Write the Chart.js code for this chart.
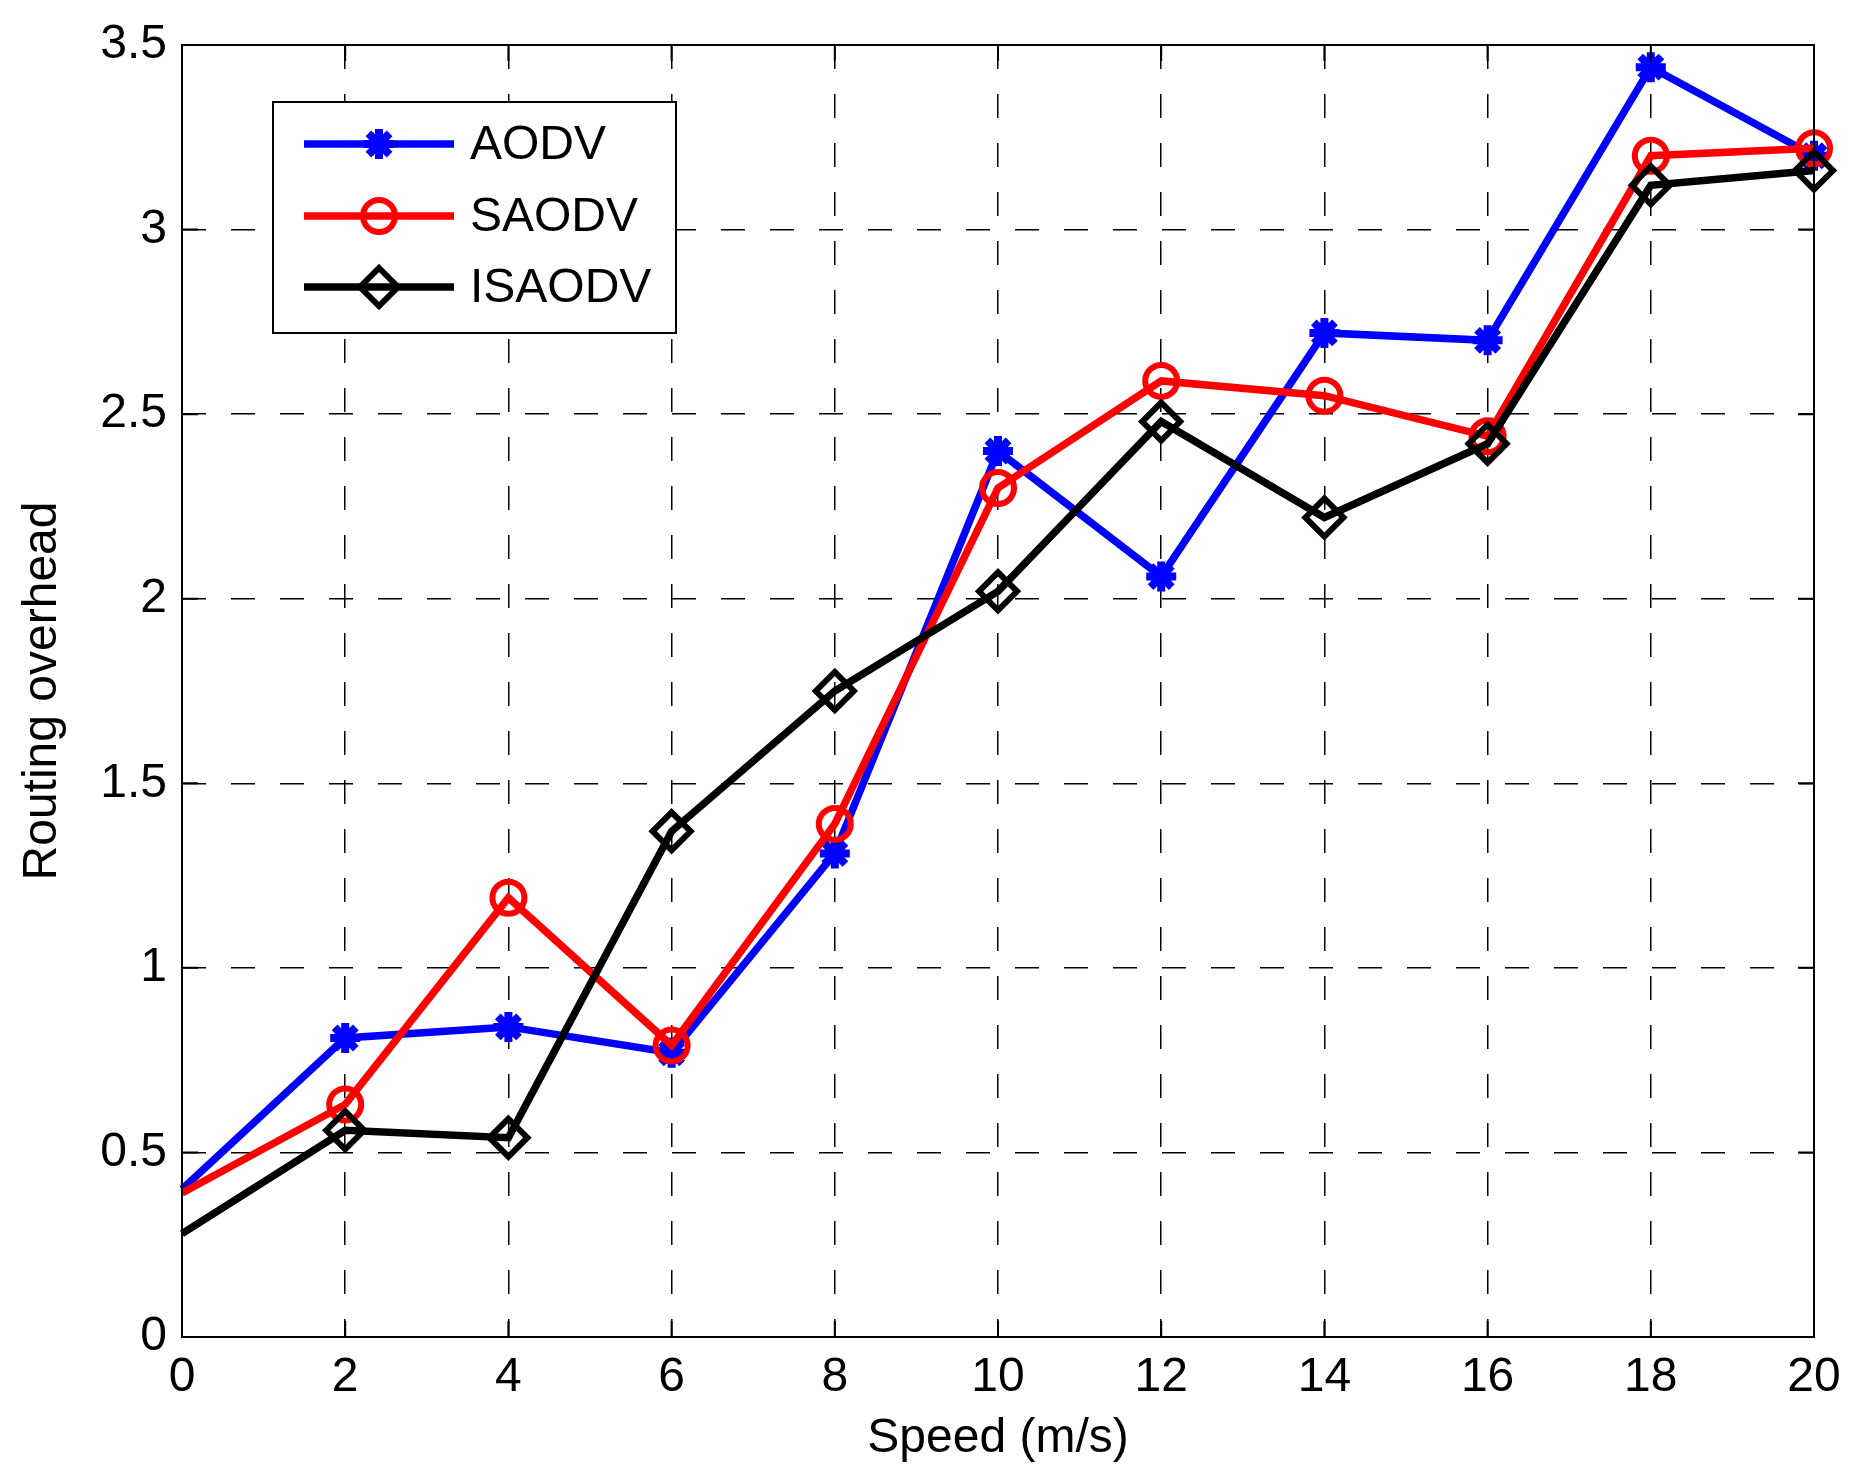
<!DOCTYPE html>
<html>
<head>
<meta charset="utf-8">
<script src="https://cdn.jsdelivr.net/npm/chart.js@4.4.1/dist/chart.umd.min.js"></script>
<style>
  html, body { margin: 0; padding: 0; background: #fff; }
  #wrap { width: 1868px; height: 1482px; position: relative; }
</style>
</head>
<body>
<div id="wrap"><canvas id="overheadChart"></canvas></div>
<script>
// data
const speeds = [0, 2, 4, 6, 8, 10, 12, 14, 16, 18, 20];
const aodv   = [0.40, 0.81, 0.84, 0.77, 1.31, 2.40, 2.06, 2.72, 2.70, 3.44, 3.20];
const saodv  = [0.39, 0.63, 1.19, 0.79, 1.39, 2.30, 2.59, 2.55, 2.44, 3.20, 3.22];
const isaodv = [0.28, 0.56, 0.54, 1.37, 1.75, 2.02, 2.48, 2.22, 2.42, 3.12, 3.16];
const seriesNames = ['AODV', 'SAODV', 'ISAODV'];
const xTitle = 'Speed (m/s)';
const yTitle = 'Routing overhead';

const FONT = 'Arial, "Liberation Sans", Helvetica, sans-serif';
const LINE_W = 7.5;

function toPoints(vals) {
  return speeds.map((s, i) => ({ x: s, y: vals[i] }));
}

// no marker at x = 0, like the original
function hideFirst(r) {
  return ctx => ctx.dataIndex === 0 ? 0 : r;
}

const styles = [
  { color: '#0000ff', pointStyle: 'star',    radius: 15, bw: 8 },
  { color: '#ff0000', pointStyle: 'circle',  radius: 16, bw: 6 },
  { color: '#000000', pointStyle: 'rectRot', radius: 19, bw: 6 }
];

const overhead_data = {
  datasets: [aodv, saodv, isaodv].map((vals, i) => ({
    label: seriesNames[i],
    data: toPoints(vals),
    borderColor: styles[i].color,
    backgroundColor: styles[i].color,
    borderWidth: LINE_W,
    tension: 0,
    pointStyle: styles[i].pointStyle,
    pointRadius: hideFirst(styles[i].radius),
    pointHoverRadius: hideFirst(styles[i].radius),
    pointBorderWidth: styles[i].bw,
    pointBorderColor: styles[i].color,
    pointBackgroundColor: i === 0 ? styles[i].color : 'rgba(0,0,0,0)',
    order: 3 - i,
    clip: false
  }))
};

function drawMarker(ctx, st, mx, y) {
  const r = st.radius;
  ctx.lineWidth = st.bw;
  ctx.beginPath();
  if (st.pointStyle === 'star') {
    ctx.moveTo(mx - r, y); ctx.lineTo(mx + r, y);
    ctx.moveTo(mx, y - r); ctx.lineTo(mx, y + r);
    const d = r * Math.SQRT1_2;
    ctx.moveTo(mx - d, y - d); ctx.lineTo(mx + d, y + d);
    ctx.moveTo(mx - d, y + d); ctx.lineTo(mx + d, y - d);
  } else if (st.pointStyle === 'circle') {
    ctx.arc(mx, y, r, 0, Math.PI * 2);
  } else {
    ctx.moveTo(mx, y - r); ctx.lineTo(mx + r, y);
    ctx.lineTo(mx, y + r); ctx.lineTo(mx - r, y);
    ctx.closePath();
  }
  ctx.stroke();
}

// frame, inward ticks and the boxed legend (matlab look)
const matlabFrame = {
  id: 'matlabFrame',
  afterDatasetsDraw(chart) {
    const ctx = chart.ctx;
    const a = chart.chartArea;
    const xs = chart.scales.x, ys = chart.scales.y;
    ctx.save();
    ctx.strokeStyle = '#000';
    ctx.lineWidth = 2;
    ctx.setLineDash([]);
    ctx.strokeRect(a.left, a.top, a.right - a.left, a.bottom - a.top);
    const tl = 16;
    ctx.beginPath();
    xs.ticks.forEach(t => {
      const px = xs.getPixelForValue(t.value);
      ctx.moveTo(px, a.bottom); ctx.lineTo(px, a.bottom - tl);
      ctx.moveTo(px, a.top); ctx.lineTo(px, a.top + tl);
    });
    ys.ticks.forEach(t => {
      const py = ys.getPixelForValue(t.value);
      ctx.moveTo(a.left, py); ctx.lineTo(a.left + tl, py);
      ctx.moveTo(a.right, py); ctx.lineTo(a.right - tl, py);
    });
    ctx.stroke();

    // legend box
    const bx = a.left + 91, by = a.top + 57, bw = 403, bh = 231;
    ctx.fillStyle = '#fff';
    ctx.fillRect(bx, by, bw, bh);
    ctx.lineWidth = 2;
    ctx.strokeRect(bx, by, bw, bh);
    const rows = [42, 114, 185];
    chart.data.datasets.forEach((ds, i) => {
      const y = by + rows[i];
      const st = styles[i];
      ctx.strokeStyle = st.color;
      ctx.lineWidth = LINE_W;
      ctx.beginPath();
      ctx.moveTo(bx + 31, y);
      ctx.lineTo(bx + 181, y);
      ctx.stroke();
      drawMarker(ctx, st, bx + 106, y);
      ctx.fillStyle = '#000';
      ctx.font = '48px ' + FONT;
      ctx.textBaseline = 'middle';
      ctx.textAlign = 'left';
      ctx.fillText(ds.label, bx + 197, y + 2);
    });
    ctx.restore();
  }
};

const tickFmt = v => String(Math.round(v * 10) / 10);

const oh_config = {
  type: 'line',
  data: overhead_data,
  options: {
    responsive: true,
    maintainAspectRatio: false,
    devicePixelRatio: 1,
    animation: false,
    layout: { padding: { top: 45, right: 54, left: 0, bottom: 0 } },
    plugins: {
      legend: { display: false },
      tooltip: { enabled: false }
    },
    scales: {
      x: {
        type: 'linear',
        min: 0,
        max: 20,
        ticks: { stepSize: 2, color: '#000', padding: 12, callback: tickFmt, font: { family: FONT, size: 48 } },
        grid: { color: '#000', lineWidth: 1.5, drawTicks: false },
        border: { display: false, dash: [24, 25] },
        title: { display: true, text: xTitle, color: '#000', font: { family: FONT, size: 48 }, padding: { top: 0, bottom: 14 } },
        afterFit: scale => { scale.height = 145; }
      },
      y: {
        min: 0,
        max: 3.5,
        ticks: { stepSize: 0.5, color: '#000', padding: 15, callback: tickFmt, font: { family: FONT, size: 48 } },
        grid: { color: '#000', lineWidth: 1.5, drawTicks: false },
        border: { display: false, dash: [24, 25] },
        title: { display: true, text: yTitle, color: '#000', font: { family: FONT, size: 48 }, padding: { top: 14, bottom: 0 } },
        afterFit: scale => { scale.width = 182; }
      }
    }
  },
  plugins: [
    {
      id: 'backgroundColor',
      beforeDraw: (chart) => {
        const ctx = chart.ctx;
        ctx.save();
        ctx.fillStyle = 'white';
        ctx.fillRect(0, 0, chart.width, chart.height);
        ctx.restore();
      }
    },
    matlabFrame
  ]
};

const myOverheadChart = new Chart(
  document.getElementById('overheadChart'),
  oh_config
);
</script>
</body>
</html>
